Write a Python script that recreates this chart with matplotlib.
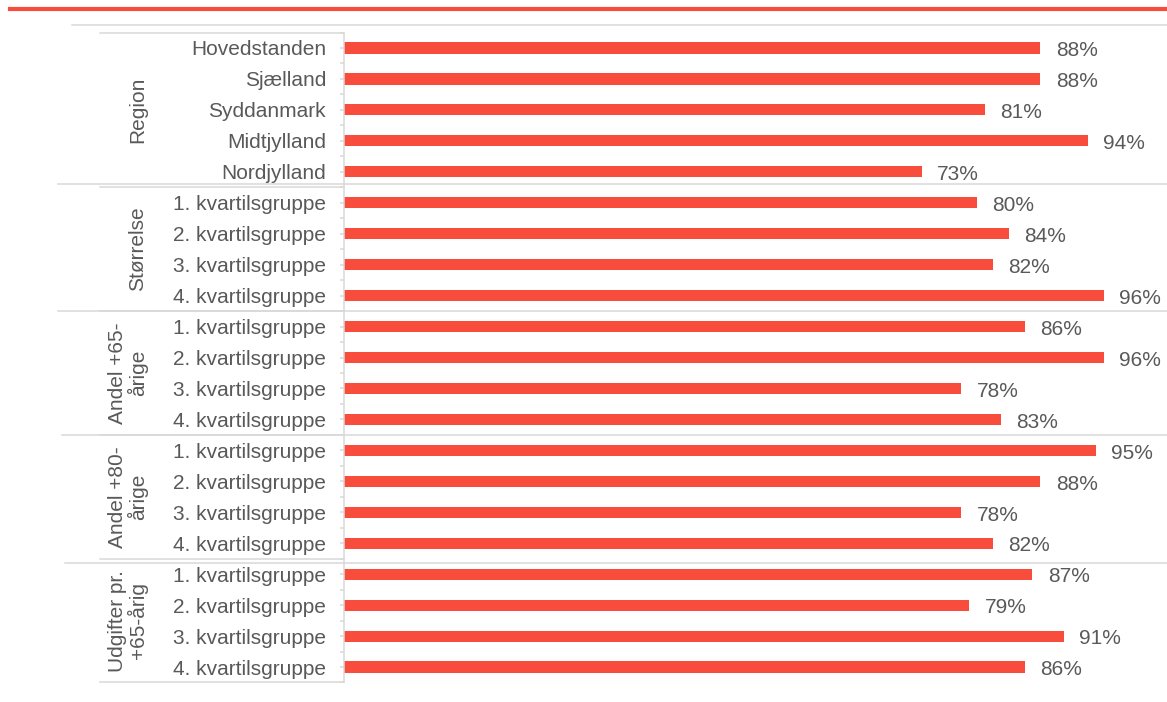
import matplotlib
matplotlib.use("Agg")
from matplotlib import pyplot as plt
from matplotlib.lines import Line2D
from matplotlib.transforms import blended_transform_factory
import numpy as np

groups = ["Region", "Størrelse", "Andel +65-\nårige", "Andel +80-\nårige", "Udgifter pr.\n+65-årig"]
region_names = ["Hovedstanden", "Sjælland", "Syddanmark", "Midtjylland", "Nordjylland"]
quartiles = ["1. kvartilsgruppe", "2. kvartilsgruppe", "3. kvartilsgruppe", "4. kvartilsgruppe"]

region_pct = [88, 88, 81, 94, 73]
size_pct = [80, 84, 82, 96]
share65_pct = [86, 96, 78, 83]
share80_pct = [95, 88, 78, 82]
spend65_pct = [87, 79, 91, 86]

group_values = [region_pct, size_pct, share65_pct, share80_pct, spend65_pct]
labels = region_names + quartiles * 4
values = [v for g in group_values for v in g]
sizes = [len(g) for g in group_values]

RED = "#F84C3C"
GREY = "#D9D9D9"
TEXT = "#595959"
W, H = 1167, 702

plt.rcParams["font.family"] = ["Liberation Sans", "DejaVu Sans"]
plt.rcParams["font.size"] = 15

fig = plt.figure(figsize=(W / 100, H / 100), dpi=100)
ax = fig.add_axes([344 / W, 1 - 682.5 / H, (W - 344) / W, (682.5 - 32.5) / H])

rows = np.arange(len(values))
ax.barh(rows, values, height=0.36, color=RED)
ax.set_xlim(0, 104)
ax.set_ylim(len(values) - 0.5, -0.5)

for y, v in zip(rows, values):
    ax.annotate(f"{v}%", (v, y), xytext=(11, -2), textcoords="offset points",
                ha="left", va="center", color=TEXT, fontsize=15)

# category labels with ticks at centres and boundaries
ax.set_yticks(rows)
ax.set_yticklabels(labels, color=TEXT, fontsize=15)
ax.set_yticks(np.arange(len(values) + 1) - 0.5, minor=True)
ax.tick_params(axis="y", which="both", length=3, width=1.1, color=GREY, pad=10)
ax.tick_params(axis="x", bottom=False, labelbottom=False)
for s in ["top", "right", "bottom"]:
    ax.spines[s].set_visible(False)
ax.spines["left"].set_color(GREY)
ax.spines["left"].set_linewidth(1.1)

# group frame and separators
tr = blended_transform_factory(fig.transFigure, ax.transData)
bounds = np.cumsum(sizes) - 0.5
ax.plot([100 / W, 344 / W], [-0.5, -0.5], color=GREY, lw=1.1, transform=tr, clip_on=False)
ax.plot([100 / W, 344 / W], [bounds[-1]] * 2, color=GREY, lw=1.1, transform=tr, clip_on=False)
sep_start = [58, 58, 62, 65]
sep_shift = [-0.12, 0, 0, 0.13]
for b, x0, dy in zip(bounds[:-1], sep_start, sep_shift):
    ax.plot([100 / W, 344 / W], [b, b], color=GREY, lw=1.1, transform=tr, clip_on=False)
    ax.plot([x0 / W, 1], [b + dy] * 2, color=GREY, lw=1.1, transform=tr, clip_on=False)

starts = np.concatenate([[0], np.cumsum(sizes)[:-1]])
for name, st, n in zip(groups, starts, sizes):
    xc = 138 if "\n" not in name else 128
    ax.text(xc / W, st + (n - 1) / 2, name, transform=tr, rotation=90,
            ha="center", va="center", multialignment="center",
            color=TEXT, fontsize=15, linespacing=1.0)

# header rules
fig.add_artist(Line2D([10 / W, 1], [1 - 9 / H] * 2, color=RED, lw=3, transform=fig.transFigure))
fig.add_artist(Line2D([72 / W, 1], [1 - 25 / H] * 2, color=GREY, lw=1.1, transform=fig.transFigure))

fig.savefig("out.png", dpi=100)
